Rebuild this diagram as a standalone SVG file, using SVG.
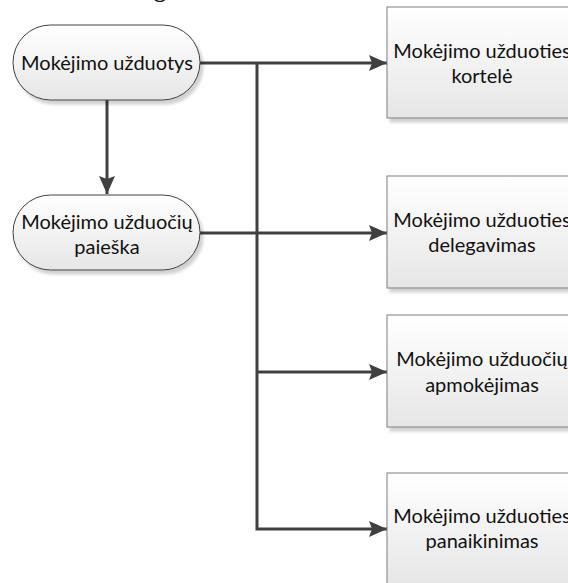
<svg xmlns="http://www.w3.org/2000/svg" width="568" height="583" viewBox="0 0 568 583">
  <style>
    .lbl { font-family: Lato, "Open Sans", "Liberation Sans", sans-serif; font-size: 20px; fill: #111; text-anchor: middle; }
    .term { fill: url(#gradFill); stroke: #404040; stroke-width: 1; filter: url(#shadow); }
    .proc { fill: url(#gradFill); stroke: #7f7f7f; stroke-width: 1; filter: url(#shadow); }
    .wire { fill: none; stroke: #404040; stroke-width: 3; }
  </style>
  <defs>
    <linearGradient id="gradFill" x1="0" y1="0" x2="0" y2="1">
      <stop offset="0" stop-color="#ffffff"/>
      <stop offset="1" stop-color="#e6e6e6"/>
    </linearGradient>
    <filter id="shadow" x="-10%" y="-10%" width="125%" height="130%">
      <feDropShadow dx="3" dy="4" stdDeviation="1.5" flood-color="#000" flood-opacity="0.18"/>
    </filter>
    <marker id="arrow" viewBox="0 0 18 16" refX="18" refY="8" markerWidth="18" markerHeight="16" markerUnits="userSpaceOnUse" orient="auto">
      <path d="M0,0 L18,8 L0,16 L3,8 Z" fill="#404040"/>
    </marker>
  </defs>

  <!-- heading, mostly above the visible area -->
  <text x="154" y="-3" font-family="Liberation Serif, serif" font-weight="bold" font-size="24" fill="#111">g</text>

  <!-- connectors -->
  <g id="connectors">
    <path class="wire" d="M107,100 V194" marker-end="url(#arrow)"/>
    <path class="wire" d="M200,63 H387" marker-end="url(#arrow)"/>
    <path class="wire" d="M200,233 H387" marker-end="url(#arrow)"/>
    <path class="wire" d="M257,63 V529 H387" marker-end="url(#arrow)"/>
    <path class="wire" d="M257,372 H387" marker-end="url(#arrow)"/>
  </g>

  <!-- start terminators -->
  <g id="node-uzduotys">
    <rect class="term" x="13" y="25" width="187" height="75" rx="37.5" ry="37.5"/>
    <text class="lbl" x="107" y="70">Mokėjimo užduotys</text>
  </g>
  <g id="node-paieska">
    <rect class="term" x="13" y="195" width="187" height="75" rx="37.5" ry="37.5"/>
    <text class="lbl" x="107" y="229">Mokėjimo užduočių</text>
    <text class="lbl" x="107" y="254">paieška</text>
  </g>

  <!-- process boxes -->
  <g id="node-kortele">
    <rect class="proc" x="387" y="7" width="186" height="111"/>
    <text class="lbl" x="482" y="58">Mokėjimo užduoties</text>
    <text class="lbl" x="482" y="83">kortelė</text>
  </g>
  <g id="node-delegavimas">
    <rect class="proc" x="387" y="176" width="186" height="112"/>
    <text class="lbl" x="482" y="227">Mokėjimo užduoties</text>
    <text class="lbl" x="482" y="252">delegavimas</text>
  </g>
  <g id="node-apmokejimas">
    <rect class="proc" x="387" y="315" width="186" height="112"/>
    <text class="lbl" x="482" y="366">Mokėjimo užduočių</text>
    <text class="lbl" x="482" y="392">apmokėjimas</text>
  </g>
  <g id="node-panaikinimas">
    <rect class="proc" x="387" y="473" width="186" height="112"/>
    <text class="lbl" x="482" y="523">Mokėjimo užduoties</text>
    <text class="lbl" x="482" y="548">panaikinimas</text>
  </g>
</svg>
